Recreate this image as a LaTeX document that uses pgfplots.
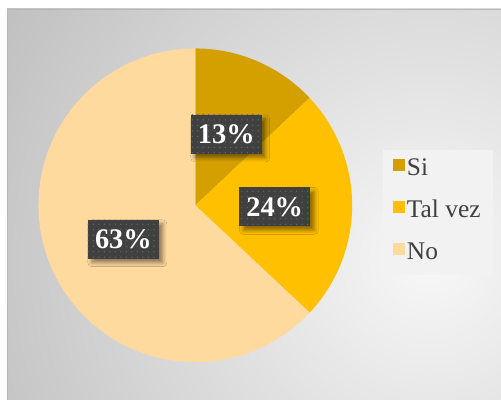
\documentclass[border=0pt]{standalone}
\usepackage{pgfplots}
\pgfplotsset{compat=1.18}
\usepackage{fontspec}
\setmainfont{Liberation Serif}
\usetikzlibrary{shadows.blur, patterns.meta}
\definecolor{cSi}{HTML}{D4A000}
\definecolor{cTal}{HTML}{FFC000}
\definecolor{cNo}{HTML}{FFDA9E}
\definecolor{lbl}{HTML}{404040}
% percentages
\def\pSi{13}
\def\pTal{24}
\def\pNo{63}
\begin{document}
\begin{tikzpicture}[
  lab/.style={fill=lbl, text=white, font=\bfseries\fontsize{28.5}{33}\selectfont,
    minimum width=71bp, minimum height=39bp, inner sep=0pt,
    blur shadow={shadow xshift=4bp, shadow yshift=-4bp, shadow blur radius=4bp, shadow opacity=45},
    postaction={pattern={Dots[radius=0.7bp, distance=5.5bp]}, pattern color=lbl!80!white}}
]
\fill[white] (0bp,0bp) rectangle (501bp,400bp);
\begin{scope}
  \clip (7bp,0bp) rectangle (501bp,391bp);
  \shade[inner color=black!3, outer color=black!25] (430bp,140bp) circle (500bp);
\end{scope}
\draw[black!28, line width=1bp] (7.5bp,0bp) -- (7.5bp,390.5bp) -- (501bp,390.5bp);

\pgfmathsetmacro{\aA}{90}
\pgfmathsetmacro{\aB}{90-3.6*\pSi}
\pgfmathsetmacro{\aC}{\aB-3.6*\pTal}
\pgfmathsetmacro{\aD}{\aC-3.6*\pNo}

\begin{axis}[
  at={(195.5bp,194.5bp)}, anchor=center,
  scale only axis, width=314bp, height=314bp,
  xmin=-1, xmax=1, ymin=-1, ymax=1,
  hide axis, clip=false,
  legend style={at={(1.097,0.677)}, anchor=north west, draw=none, fill=black!5,
    inner xsep=10.5bp, inner ysep=8bp, row sep=17bp,
    font=\fontsize{25.5}{30}\selectfont, text=lbl,
    nodes={inner sep=2bp, text height=16bp, text depth=5bp},
    /tikz/every even column/.append style={column sep=8.5bp}},
  legend cell align=left,
  legend image code/.code={\fill[#1, draw=none] (0bp,-0.5bp) rectangle (11.7bp,11.2bp);},
]
\addplot[fill=cSi, draw=none, domain=\aB:\aA, samples=80, data cs=polar] ({x},{1}) -- (axis cs:0,0) -- cycle;
\addlegendentry{Si}
\addplot[fill=cTal, draw=none, domain=\aC:\aB, samples=80, data cs=polar] ({x},{1}) -- (axis cs:0,0) -- cycle;
\addlegendentry{Tal vez}
\addplot[fill=cNo, draw=none, domain=\aD:\aC, samples=160, data cs=polar] ({x},{1}) -- (axis cs:0,0) -- cycle;
\addlegendentry{No}
\end{axis}

\node[lab] at (226.5bp,265.5bp) {13\%};
\node[lab] at (275bp,193bp) {24\%};
\node[lab] at (123.5bp,160.5bp) {63\%};
\end{tikzpicture}
\end{document}
